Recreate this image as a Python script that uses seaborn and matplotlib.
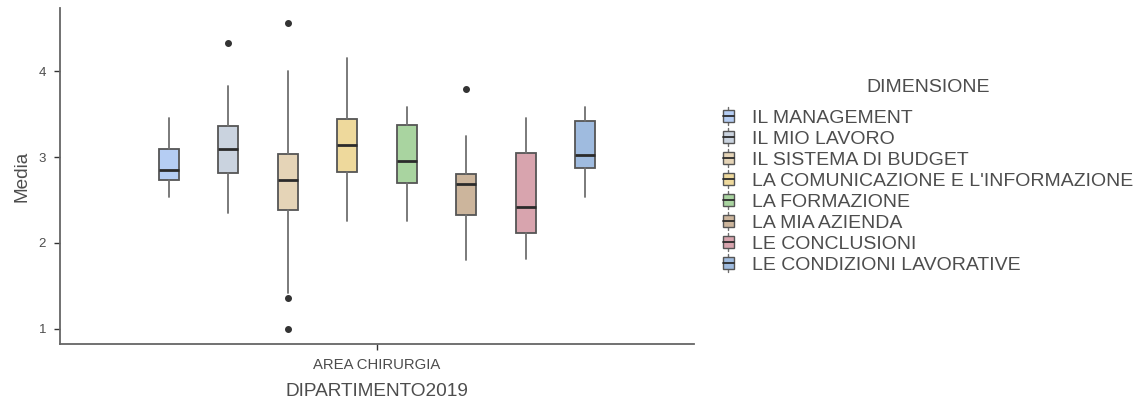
import matplotlib
matplotlib.use("Agg")
import matplotlib.pyplot as plt
from matplotlib.legend_handler import HandlerBase
from matplotlib.patches import Rectangle
from matplotlib.lines import Line2D
import seaborn as sns

# Summary statistics of "Media" per dimension, department AREA CHIRURGIA
dimensions = [
    "IL MANAGEMENT",
    "IL MIO LAVORO",
    "IL SISTEMA DI BUDGET",
    "LA COMUNICAZIONE E L'INFORMAZIONE",
    "LA FORMAZIONE",
    "LA MIA AZIENDA",
    "LE CONCLUSIONI",
    "LE CONDIZIONI LAVORATIVE",
]
whisker_low = [2.54, 2.35, 1.42, 2.26, 2.26, 1.80, 1.81, 2.53]
q1 = [2.73, 2.82, 2.38, 2.83, 2.70, 2.33, 2.12, 2.87]
median = [2.85, 3.10, 2.73, 3.14, 2.96, 2.69, 2.42, 3.03]
q3 = [3.10, 3.36, 3.04, 3.44, 3.38, 2.80, 3.05, 3.42]
whisker_high = [3.46, 3.83, 4.00, 4.16, 3.58, 3.25, 3.46, 3.58]
outliers = [[], [4.33], [4.56, 1.36, 1.00], [], [], [3.79], [], []]

department = "AREA CHIRURGIA"

colors = ["#b5cdf3", "#cad3df", "#e5d4b7", "#eed99c",
          "#a9d4a0", "#ccb59c", "#d8a4ae", "#9fbbdf"]

sns.set_theme(style="ticks")
plt.rcParams["font.family"] = ["Liberation Sans", "DejaVu Sans"]

TEXT = "#4d4d4d"
EDGE = "#555555"

fig = plt.figure(figsize=(11.45, 4.03), dpi=100)
fig.patch.set_facecolor("white")
ax = fig.add_axes([0.0524, 0.1464, 0.5537, 0.8336])
ax.set_facecolor("white")

n = len(dimensions)
dodge = 0.9 / n
positions = [1 + (i - (n - 1) / 2) * dodge for i in range(n)]

stats = []
for i, name in enumerate(dimensions):
    stats.append(dict(label=name, whislo=whisker_low[i], q1=q1[i], med=median[i],
                      q3=q3[i], whishi=whisker_high[i], fliers=outliers[i]))

bp = ax.bxp(stats, positions=positions, widths=0.038, patch_artist=True,
            showcaps=False,
            boxprops=dict(edgecolor=EDGE, linewidth=1.3),
            medianprops=dict(color="#2b2b2b", linewidth=2.0),
            whiskerprops=dict(color="#6f6f6f", linewidth=1.3),
            flierprops=dict(marker="o", markerfacecolor="#333333",
                            markeredgecolor="#333333", markersize=4))
for patch, c in zip(bp["boxes"], colors):
    patch.set_facecolor(c)

ax.set_xlim(0.4, 1.6)
ax.set_ylim(0.822, 4.738)
ax.set_xticks([1])
ax.set_xticklabels([department])
ax.set_yticks([1, 2, 3, 4])
ax.tick_params(axis="x", labelsize=10.7, colors="#333333", labelcolor=TEXT,
               direction="out", length=4, width=1, top=False, pad=6)
ax.tick_params(axis="y", labelsize=9.5, colors="#333333", labelcolor=TEXT,
               direction="out", length=4, width=1, right=False, pad=6)
ax.grid(False)
for side in ["top", "right"]:
    ax.spines[side].set_visible(False)
for side in ["left", "bottom"]:
    ax.spines[side].set_color("#666666")
    ax.spines[side].set_linewidth(1.3)

ax.set_xlabel("DIPARTIMENTO2019", fontsize=13.7, color=TEXT, labelpad=8)
ax.set_ylabel("Media", fontsize=13.7, color=TEXT, labelpad=6)


class BoxKeyHandler(HandlerBase):
    """Legend key drawn as a tiny boxplot."""

    def create_artists(self, legend, orig_handle, xdescent, ydescent,
                       width, height, fontsize, trans):
        face = orig_handle.get_facecolor()
        bw = width * 0.62
        x0 = -xdescent + (width - bw) / 2
        cx = x0 + bw / 2
        bh = height * 0.72
        y0 = -ydescent + (height - bh) / 2
        rect = Rectangle((x0, y0), bw, bh, facecolor=face, edgecolor=EDGE,
                         linewidth=1.0, transform=trans)
        med = Line2D([x0, x0 + bw], [y0 + bh / 2] * 2, color="#2b2b2b",
                     linewidth=1.3, transform=trans)
        w1 = Line2D([cx, cx], [y0 + bh, y0 + bh + height * 0.2], color="#6f6f6f",
                    linewidth=1.0, transform=trans)
        w2 = Line2D([cx, cx], [y0, y0 - height * 0.2], color="#6f6f6f",
                    linewidth=1.0, transform=trans)
        return [w1, w2, rect, med]


# Legend title placed on its own, centred over the key column
fig.text(0.811, 0.782, "DIMENSIONE", fontsize=14, color=TEXT,
         ha="center", va="center")

handles = [Rectangle((0, 0), 1, 1, facecolor=c) for c in colors]
leg = fig.legend(handles, dimensions, loc="upper left",
                 bbox_to_anchor=(0.628, 0.7325), frameon=False,
                 fontsize=14,
                 handler_map={Rectangle: BoxKeyHandler()},
                 handlelength=0.95, handleheight=0.9, handletextpad=0.75,
                 labelspacing=0.115, borderaxespad=0, borderpad=0)
for t in leg.get_texts():
    t.set_color(TEXT)

fig.savefig("out.png", dpi=100, facecolor="white")
